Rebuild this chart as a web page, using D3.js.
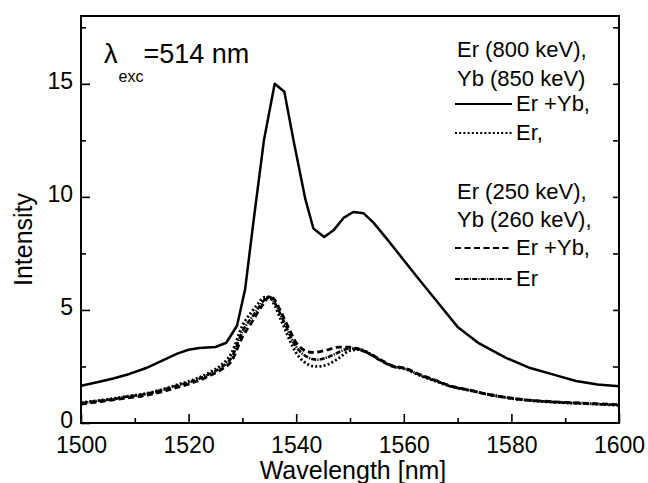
<!DOCTYPE html>
<html>
<head>
<meta charset="utf-8">
<script src="https://cdn.jsdelivr.net/npm/d3@7"></script>
<style>
  html, body { margin: 0; padding: 0; background: #fff; }
  svg { display: block; }
  text { font-family: "Liberation Sans", Arial, Helvetica, sans-serif; fill: #000; }
</style>
</head>
<body>
<svg id="chart" width="648" height="483"></svg>
<script>
// ---------- data ----------
const xTicksMajor = [1500, 1520, 1540, 1560, 1580, 1600];
const xTicksMinor = [1510, 1530, 1550, 1570, 1590];
const yTicksMajor = [0, 5, 10, 15];
const yTicksMinor = [2.5, 7.5, 12.5, 17.5];
const yTicksRight = [2.5, 5, 7.5, 10, 12.5, 15, 17.5];

// Er (800 keV), Yb (850 keV): Er + Yb  (solid)
const wlSolid = [1500,1503,1506,1509,1512,1515,1518,1520,1522,1525,1527,1529,1530.5,1532,1534,1536,1537.8,1539.5,1541.7,1543.2,1545.2,1547,1548.8,1550.6,1552.5,1554.4,1557,1560,1563,1567,1570,1574,1579,1583.5,1588,1592,1596,1600];
const erYb800 = [1.65,1.8,1.97,2.17,2.42,2.75,3.08,3.24,3.32,3.36,3.55,4.3,5.9,8.8,12.5,15.0,14.65,12.5,9.9,8.6,8.23,8.54,9.07,9.33,9.28,8.85,8.1,7.2,6.3,5.13,4.25,3.52,2.88,2.43,2.13,1.86,1.7,1.62];

// lower curves share one wavelength grid
const wlLow = [1500,1503,1506,1509,1512,1515,1518,1521,1524,1526,1528,1530,1532,1533,1534,1535,1536,1537,1538,1539,1540,1541,1542,1543,1544,1546,1548,1550,1552,1554,1556,1558,1560,1563,1566,1569,1572,1575,1578,1581,1584,1587,1590,1593,1596,1600];
// Er (800 keV) only (dotted)
const er800 = [0.9,0.99,1.08,1.2,1.3,1.48,1.7,1.92,2.25,2.55,3.1,4.3,5.0,5.3,5.55,5.55,5.2,4.65,4.1,3.55,3.1,2.8,2.62,2.52,2.5,2.6,2.88,3.2,3.25,3.02,2.74,2.5,2.4,2.1,1.84,1.6,1.45,1.3,1.17,1.05,0.98,0.93,0.89,0.86,0.83,0.78];
// Er (250 keV), Yb (260 keV): Er + Yb (dashed)
const erYb250 = [0.84,0.93,1.02,1.12,1.22,1.38,1.58,1.8,2.1,2.35,2.75,3.8,4.55,4.95,5.3,5.6,5.45,5.0,4.5,4.0,3.55,3.3,3.15,3.12,3.14,3.25,3.36,3.35,3.25,3.02,2.75,2.52,2.44,2.14,1.88,1.62,1.47,1.3,1.17,1.07,1.0,0.95,0.91,0.88,0.85,0.81];
// Er (250 keV) only (dash-dot)
const er250 = [0.88,0.97,1.06,1.18,1.28,1.45,1.66,1.87,2.18,2.45,2.9,4.05,4.75,5.1,5.42,5.58,5.32,4.85,4.33,3.8,3.36,3.1,2.93,2.83,2.8,2.92,3.14,3.3,3.22,3.0,2.72,2.5,2.42,2.12,1.86,1.6,1.46,1.29,1.16,1.06,0.99,0.94,0.9,0.88,0.84,0.8];

const legendGroup1 = ["Er (800 keV),", "Yb (850 keV)"];
const legendGroup2 = ["Er (250 keV),", "Yb (260 keV),"];
const legendItems = [
  {label: "Er +Yb,", dash: null},
  {label: "Er,", dash: "2,2.2"},
  {label: "Er +Yb,", dash: "6,3.5"},
  {label: "Er", dash: "5,1.2,1.2,1.2"}
];

// ---------- layout ----------
const svg = d3.select("#chart");
const L = 81, R = 619, T = 16, B = 423;
const x = d3.scaleLinear().domain([1500, 1600]).range([L, R]);
const y = d3.scaleLinear().domain([0, 18]).range([B, T]);

// frame
svg.append("rect").attr("x", L).attr("y", T).attr("width", R - L).attr("height", B - T)
  .attr("fill", "none").attr("stroke", "#000").attr("stroke-width", 2);

function styleAxis(g, fs) {
  g.select(".domain").remove();
  g.selectAll(".tick line").attr("stroke", "#000").attr("stroke-width", 1.6);
  g.selectAll(".tick text").attr("font-size", fs).attr("fill", "#000")
    .attr("font-family", '"Liberation Sans", Arial, sans-serif');
}

// bottom axis
const gx = svg.append("g").attr("transform", `translate(0,${B})`)
  .call(d3.axisBottom(x).tickValues(xTicksMajor).tickSize(-9).tickPadding(14).tickFormat(d3.format("d")));
styleAxis(gx, 23);
const gxm = svg.append("g").attr("transform", `translate(0,${B})`)
  .call(d3.axisBottom(x).tickValues(xTicksMinor).tickSize(-5).tickFormat(""));
styleAxis(gxm, 23);

// left axis
const gy = svg.append("g").attr("transform", `translate(${L},0)`)
  .call(d3.axisLeft(y).tickValues(yTicksMajor).tickSize(-9).tickPadding(8).tickFormat(d3.format("d")));
styleAxis(gy, 23);
gy.selectAll(".tick text").attr("dy", "0.2em");
const gym = svg.append("g").attr("transform", `translate(${L},0)`)
  .call(d3.axisLeft(y).tickValues(yTicksMinor).tickSize(-5).tickFormat(""));
styleAxis(gym, 23);

// right axis
const gr = svg.append("g").attr("transform", `translate(${R},0)`)
  .call(d3.axisRight(y).tickValues(yTicksRight).tickSize(-6).tickFormat(""));
styleAxis(gr, 23);

// axis titles
svg.append("text").attr("x", (L + R) / 2 + 3).attr("y", 479).attr("text-anchor", "middle")
  .attr("font-size", 25).text("Wavelength [nm]");
svg.append("text").attr("transform", `translate(32,${(T + B) / 2 + 20}) rotate(-90)`)
  .attr("text-anchor", "middle").attr("font-size", 25).text("Intensity");

// curves
const clip = svg.append("clipPath").attr("id", "clip").append("rect")
  .attr("x", L).attr("y", T).attr("width", R - L).attr("height", B - T);
const plot = svg.append("g").attr("clip-path", "url(#clip)");

function drawCurve(xs, ys, dash, width, curve) {
  const line = d3.line().x((d, i) => x(xs[i])).y(d => y(d)).curve(curve);
  plot.append("path").datum(ys).attr("d", line).attr("fill", "none")
    .attr("stroke", "#000").attr("stroke-width", width)
    .attr("stroke-linejoin", "round")
    .attr("stroke-dasharray", dash);
}
drawCurve(wlLow, er250, "5,1.2,1.2,1.2", 2.6, d3.curveMonotoneX);
drawCurve(wlLow, erYb250, "6,3.5", 2.8, d3.curveMonotoneX);
drawCurve(wlLow, er800, "2,2.2", 2.8, d3.curveMonotoneX);
drawCurve(wlSolid, erYb800, null, 2.5, d3.curveLinear);

// excitation label
const lab = svg.append("text").attr("x", 104).attr("y", 63).attr("font-size", 27);
lab.append("tspan").text("λ");
lab.append("tspan").attr("font-size", 16).attr("dy", 19).attr("dx", 1).text("exc");
lab.append("tspan").attr("dy", -19).text("=514 nm");

// legend
const lx = 457, lineX1 = 455, lineX2 = 512, ltx = 516;
const fs = 22;
svg.append("text").attr("x", lx).attr("y", 57).attr("font-size", fs).text(legendGroup1[0]);
svg.append("text").attr("x", lx).attr("y", 86).attr("font-size", fs).text(legendGroup1[1]);
svg.append("text").attr("x", lx).attr("y", 199).attr("font-size", fs).text(legendGroup2[0]);
svg.append("text").attr("x", lx).attr("y", 227).attr("font-size", fs).text(legendGroup2[1]);
const itemY = [111, 140, 255, 286];
legendItems.forEach((it, i) => {
  svg.append("line").attr("x1", lineX1).attr("x2", lineX2)
    .attr("y1", itemY[i] - 7).attr("y2", itemY[i] - 7)
    .attr("stroke", "#000").attr("stroke-width", 2.2)
    .attr("stroke-dasharray", it.dash);
  svg.append("text").attr("x", ltx).attr("y", itemY[i]).attr("font-size", fs).text(it.label);
});
</script>
</body>
</html>
